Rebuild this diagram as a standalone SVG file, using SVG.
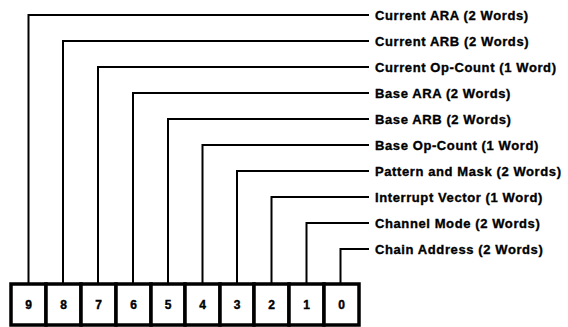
<svg xmlns="http://www.w3.org/2000/svg" width="568" height="327" viewBox="0 0 568 327">
<style>
.c{fill:none;stroke:#000;stroke-width:2}
.lbl{font-family:"Liberation Sans",Arial,sans-serif;font-weight:bold;font-size:13px;letter-spacing:0.6px;fill:#000;stroke:#000;stroke-width:0.35}
.cell{fill:#fff;stroke:#000;stroke-width:3.5}
.d{font-family:"Liberation Sans",Arial,sans-serif;font-weight:bold;font-size:12px;fill:#000;stroke:#000;stroke-width:0.4;text-anchor:middle}
</style>
<rect width="568" height="327" fill="#fff"/>
<g id="connectors">
<path class="c" d="M28.5 283V15H369"/>
<path class="c" d="M63 283V41H369"/>
<path class="c" d="M98 283V67H369"/>
<path class="c" d="M133 283V93H369"/>
<path class="c" d="M168 283V119H369"/>
<path class="c" d="M202.5 283V145H369"/>
<path class="c" d="M237 283V171H369"/>
<path class="c" d="M271.5 283V197H369"/>
<path class="c" d="M306.5 283V223H369"/>
<path class="c" d="M340.5 283V249H369"/>
</g>
<g id="labels">
<text class="lbl" x="375" y="19.5">Current ARA (2 Words)</text>
<text class="lbl" x="375" y="45.5">Current ARB (2 Words)</text>
<text class="lbl" x="375" y="71.5">Current Op-Count (1 Word)</text>
<text class="lbl" x="375" y="97.5">Base ARA (2 Words)</text>
<text class="lbl" x="375" y="123.5">Base ARB (2 Words)</text>
<text class="lbl" x="375" y="149.5">Base Op-Count (1 Word)</text>
<text class="lbl" x="375" y="175.5">Pattern and Mask (2 Words)</text>
<text class="lbl" x="375" y="201.5">Interrupt Vector (1 Word)</text>
<text class="lbl" x="375" y="227.5">Channel Mode (2 Words)</text>
<text class="lbl" x="375" y="253.5">Chain Address (2 Words)</text>
</g>
<g id="register">
<g id="bit9"><rect class="cell" x="11" y="284" width="35" height="41"/><text class="d" x="28.5" y="309">9</text></g>
<g id="bit8"><rect class="cell" x="46" y="284" width="35" height="41"/><text class="d" x="63.5" y="309">8</text></g>
<g id="bit7"><rect class="cell" x="81" y="284" width="35" height="41"/><text class="d" x="98.5" y="309">7</text></g>
<g id="bit6"><rect class="cell" x="116" y="284" width="35" height="41"/><text class="d" x="133.5" y="309">6</text></g>
<g id="bit5"><rect class="cell" x="151" y="284" width="34" height="41"/><text class="d" x="168" y="309">5</text></g>
<g id="bit4"><rect class="cell" x="185" y="284" width="35" height="41"/><text class="d" x="202.5" y="309">4</text></g>
<g id="bit3"><rect class="cell" x="220" y="284" width="34" height="41"/><text class="d" x="237" y="309">3</text></g>
<g id="bit2"><rect class="cell" x="254" y="284" width="35" height="41"/><text class="d" x="271.5" y="309">2</text></g>
<g id="bit1"><rect class="cell" x="289" y="284" width="35" height="41"/><text class="d" x="306.5" y="309">1</text></g>
<g id="bit0"><rect class="cell" x="324" y="284" width="35" height="41"/><text class="d" x="341.5" y="309">0</text></g>
</g>
</svg>
